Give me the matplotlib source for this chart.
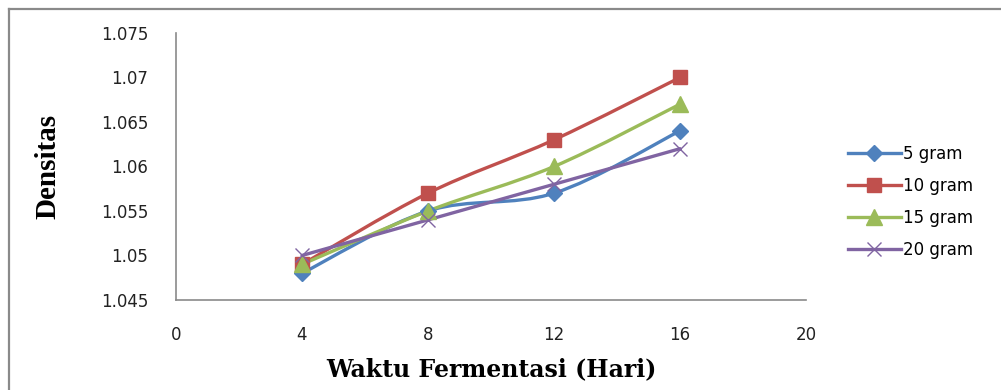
import numpy as np
import matplotlib.pyplot as plt
from matplotlib.path import Path
from matplotlib.patches import PathPatch
from matplotlib.lines import Line2D

hari = [4, 8, 12, 16]
gram_5 = [1.048, 1.055, 1.057, 1.064]
gram_10 = [1.049, 1.057, 1.063, 1.070]
gram_15 = [1.049, 1.055, 1.060, 1.067]
gram_20 = [1.050, 1.054, 1.058, 1.062]
series_labels = ['5 gram', '10 gram', '15 gram', '20 gram']

x_ticks = [0, 4, 8, 12, 16, 20]
y_ticks = [1.045, 1.05, 1.055, 1.06, 1.065, 1.07, 1.075]
y_ticklabels = ['1.045', '1.05', '1.055', '1.06', '1.065', '1.07', '1.075']

colors = ['#4F81BD', '#C0504D', '#9BBB59', '#8064A2']
markers = ['D', 's', '^', 'x']
msizes = [8, 10, 11, 10]


def smooth_path(x, y):
    # bezier segments through every point, like a spreadsheet "smoothed line"
    p = np.column_stack([x, y]).astype(float)
    ext = np.vstack([p[0], p, p[-1]])
    verts = [p[0]]
    codes = [Path.MOVETO]
    for i in range(len(p) - 1):
        p0, p1, p2, p3 = ext[i], ext[i + 1], ext[i + 2], ext[i + 3]
        c1 = p1 + (p2 - p0) / 6.0
        c2 = p2 - (p3 - p1) / 6.0
        verts += [c1, c2, p2]
        codes += [Path.CURVE4] * 3
    return Path(verts, codes)


fig = plt.figure(figsize=(10.01, 3.9), dpi=100)
ax = fig.add_axes([0.1758, 0.2308, 0.6294, 0.6846])

# frame lines along top and left of the figure
fig.add_artist(Line2D([9 / 1001, 9 / 1001], [0, 1 - 9 / 390], transform=fig.transFigure,
                      color='#8a8a8a', lw=1.6))
fig.add_artist(Line2D([9 / 1001, 1], [1 - 9 / 390, 1 - 9 / 390], transform=fig.transFigure,
                      color='#8a8a8a', lw=1.6))

handles = []
for ys, c, m, ms, lab in zip([gram_5, gram_10, gram_15, gram_20], colors, markers, msizes, series_labels):
    ax.add_patch(PathPatch(smooth_path(hari, ys), fill=False, edgecolor=c, lw=2.4,
                           capstyle='round', joinstyle='round'))
    if m == 'x':
        ax.plot(hari, ys, linestyle='none', marker=m, ms=ms, mew=1.0, color=c)
    else:
        ax.plot(hari, ys, linestyle='none', marker=m, ms=ms, color=c, mec=c)
    handles.append(Line2D([], [], color=c, lw=2.4, marker=m, ms=ms,
                          mew=1.0, mec=c, label=lab))

ax.set_xlim(0, 20)
ax.set_ylim(1.045, 1.075)
ax.set_xticks(x_ticks)
ax.set_xticklabels([str(v) for v in x_ticks])
ax.set_yticks(y_ticks)
ax.set_yticklabels(y_ticklabels)
ax.tick_params(axis='both', length=0, labelsize=12, colors='#222222')
ax.tick_params(axis='x', pad=19)
ax.tick_params(axis='y', pad=20)

for side in ['top', 'right']:
    ax.spines[side].set_visible(False)
for side in ['left', 'bottom']:
    ax.spines[side].set_color('#8a8a8a')
    ax.spines[side].set_linewidth(1.2)

ax.set_xlabel('Waktu Fermentasi (Hari)', family='DejaVu Serif', fontweight='bold',
              fontsize=17, labelpad=9)
ax.set_ylabel('Densitas', family='Liberation Serif', fontweight='bold',
              fontsize=21, labelpad=28)

fig.legend(handles=handles, loc='center left', bbox_to_anchor=(0.832, 0.482),
           frameon=False, fontsize=12, handlelength=3.2, handletextpad=0.1,
           labelspacing=0.85)

fig.savefig('out.png', dpi=100)
